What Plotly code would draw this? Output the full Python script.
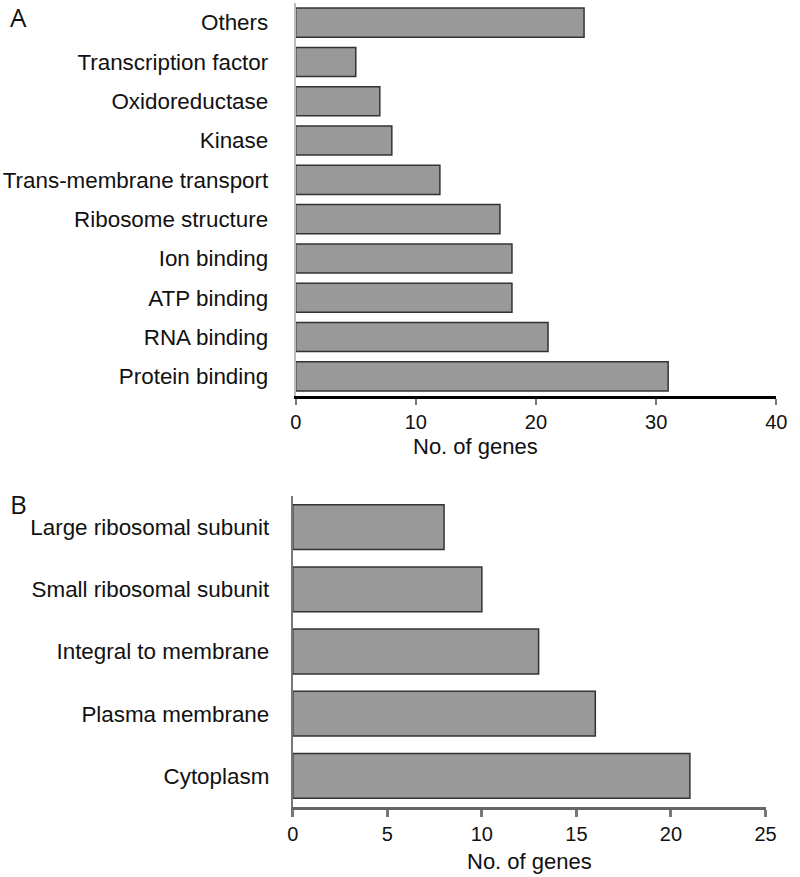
import plotly.graph_objects as go

# Panel A data (top to bottom)
cats_a = ["Others", "Transcription factor", "Oxidoreductase", "Kinase",
          "Trans-membrane transport", "Ribosome structure", "Ion binding",
          "ATP binding", "RNA binding", "Protein binding"]
vals_a = [24, 5, 7, 8, 12, 17, 18, 18, 21, 31]

# Panel B data (top to bottom)
cats_b = ["Large ribosomal subunit", "Small ribosomal subunit",
          "Integral to membrane", "Plasma membrane", "Cytoplasm"]
vals_b = [8, 10, 13, 16, 21]

ticks_a = [0, 10, 20, 30, 40]
ticks_b = [0, 5, 10, 15, 20, 25]

W, H = 800, 877
def px(x): return x / W
def py(y): return 1 - y / H

FONT = "Liberation Sans, Arial, sans-serif"
BAR = "#999999"
EDGE = "#333333"

fig = go.Figure()
fig.add_trace(go.Bar(x=vals_a, y=cats_a, orientation="h", xaxis="x", yaxis="y",
                     marker=dict(color=BAR, line=dict(color=EDGE, width=1.5)),
                     width=0.74, showlegend=False, hoverinfo="skip"))
fig.add_trace(go.Bar(x=vals_b, y=cats_b, orientation="h", xaxis="x2", yaxis="y2",
                     marker=dict(color=BAR, line=dict(color=EDGE, width=1.5)),
                     width=0.72, showlegend=False, hoverinfo="skip"))

tickfont = dict(family=FONT, size=20, color="#111111")
catfont = dict(family=FONT, size=22.4, color="#111111")

fig.update_layout(
    width=W, height=H,
    margin=dict(l=0, r=0, t=0, b=0),
    paper_bgcolor="white", plot_bgcolor="white",
    xaxis=dict(domain=[px(296), px(787)], anchor="y", range=[0, 40],
               tickvals=ticks_a, showgrid=False, zeroline=False,
               showline=True, linecolor="#000000", linewidth=3,
               ticks="outside", ticklen=6, tickwidth=2, tickcolor="#777777",
               tickfont=tickfont),
    yaxis=dict(domain=[py(396), py(3)], anchor="x", type="category",
               categoryorder="array", categoryarray=cats_a, autorange="reversed",
               showgrid=False, zeroline=False,
               showline=True, linecolor="#bbbbbb", linewidth=2,
               ticks="", tickfont=catfont, ticklabelstandoff=21),
    xaxis2=dict(domain=[px(293), px(776)], anchor="y2", range=[0, 25],
                tickvals=ticks_b, showgrid=False, zeroline=False,
                showline=True, linecolor="#666666", linewidth=3,
                ticks="outside", ticklen=7, tickwidth=2.5, tickcolor="#777777",
                tickfont=tickfont),
    yaxis2=dict(domain=[py(807), py(496)], anchor="x2", type="category",
                categoryorder="array", categoryarray=cats_b, autorange="reversed",
                showgrid=False, zeroline=False,
                showline=True, linecolor="#777777", linewidth=2,
                ticks="", tickfont=catfont, ticklabelstandoff=17),
)

annots = [
    dict(text="No. of genes", x=px(480), y=py(447), xref="paper", yref="paper",
         showarrow=False, font=dict(family=FONT, size=22, color="#111111"),
         xanchor="center", yanchor="middle"),
    dict(text="No. of genes", x=px(535), y=py(861), xref="paper", yref="paper",
         showarrow=False, font=dict(family=FONT, size=22, color="#111111"),
         xanchor="center", yanchor="middle"),
    dict(text="A", x=px(3), y=py(17), xref="paper", yref="paper", borderpad=0,
         showarrow=False, font=dict(family="Open Sans, sans-serif", size=26, color="#111111"),
         xanchor="left", yanchor="middle"),
    dict(text="B", x=px(3), y=py(504), xref="paper", yref="paper", borderpad=0,
         showarrow=False, font=dict(family="Open Sans, sans-serif", size=26, color="#111111"),
         xanchor="left", yanchor="middle"),
]
fig.update_layout(annotations=annots)

fig.write_html("out.html", config={"displayModeBar": False},
               post_script="document.body.style.margin='0';document.body.style.overflow='hidden';")
